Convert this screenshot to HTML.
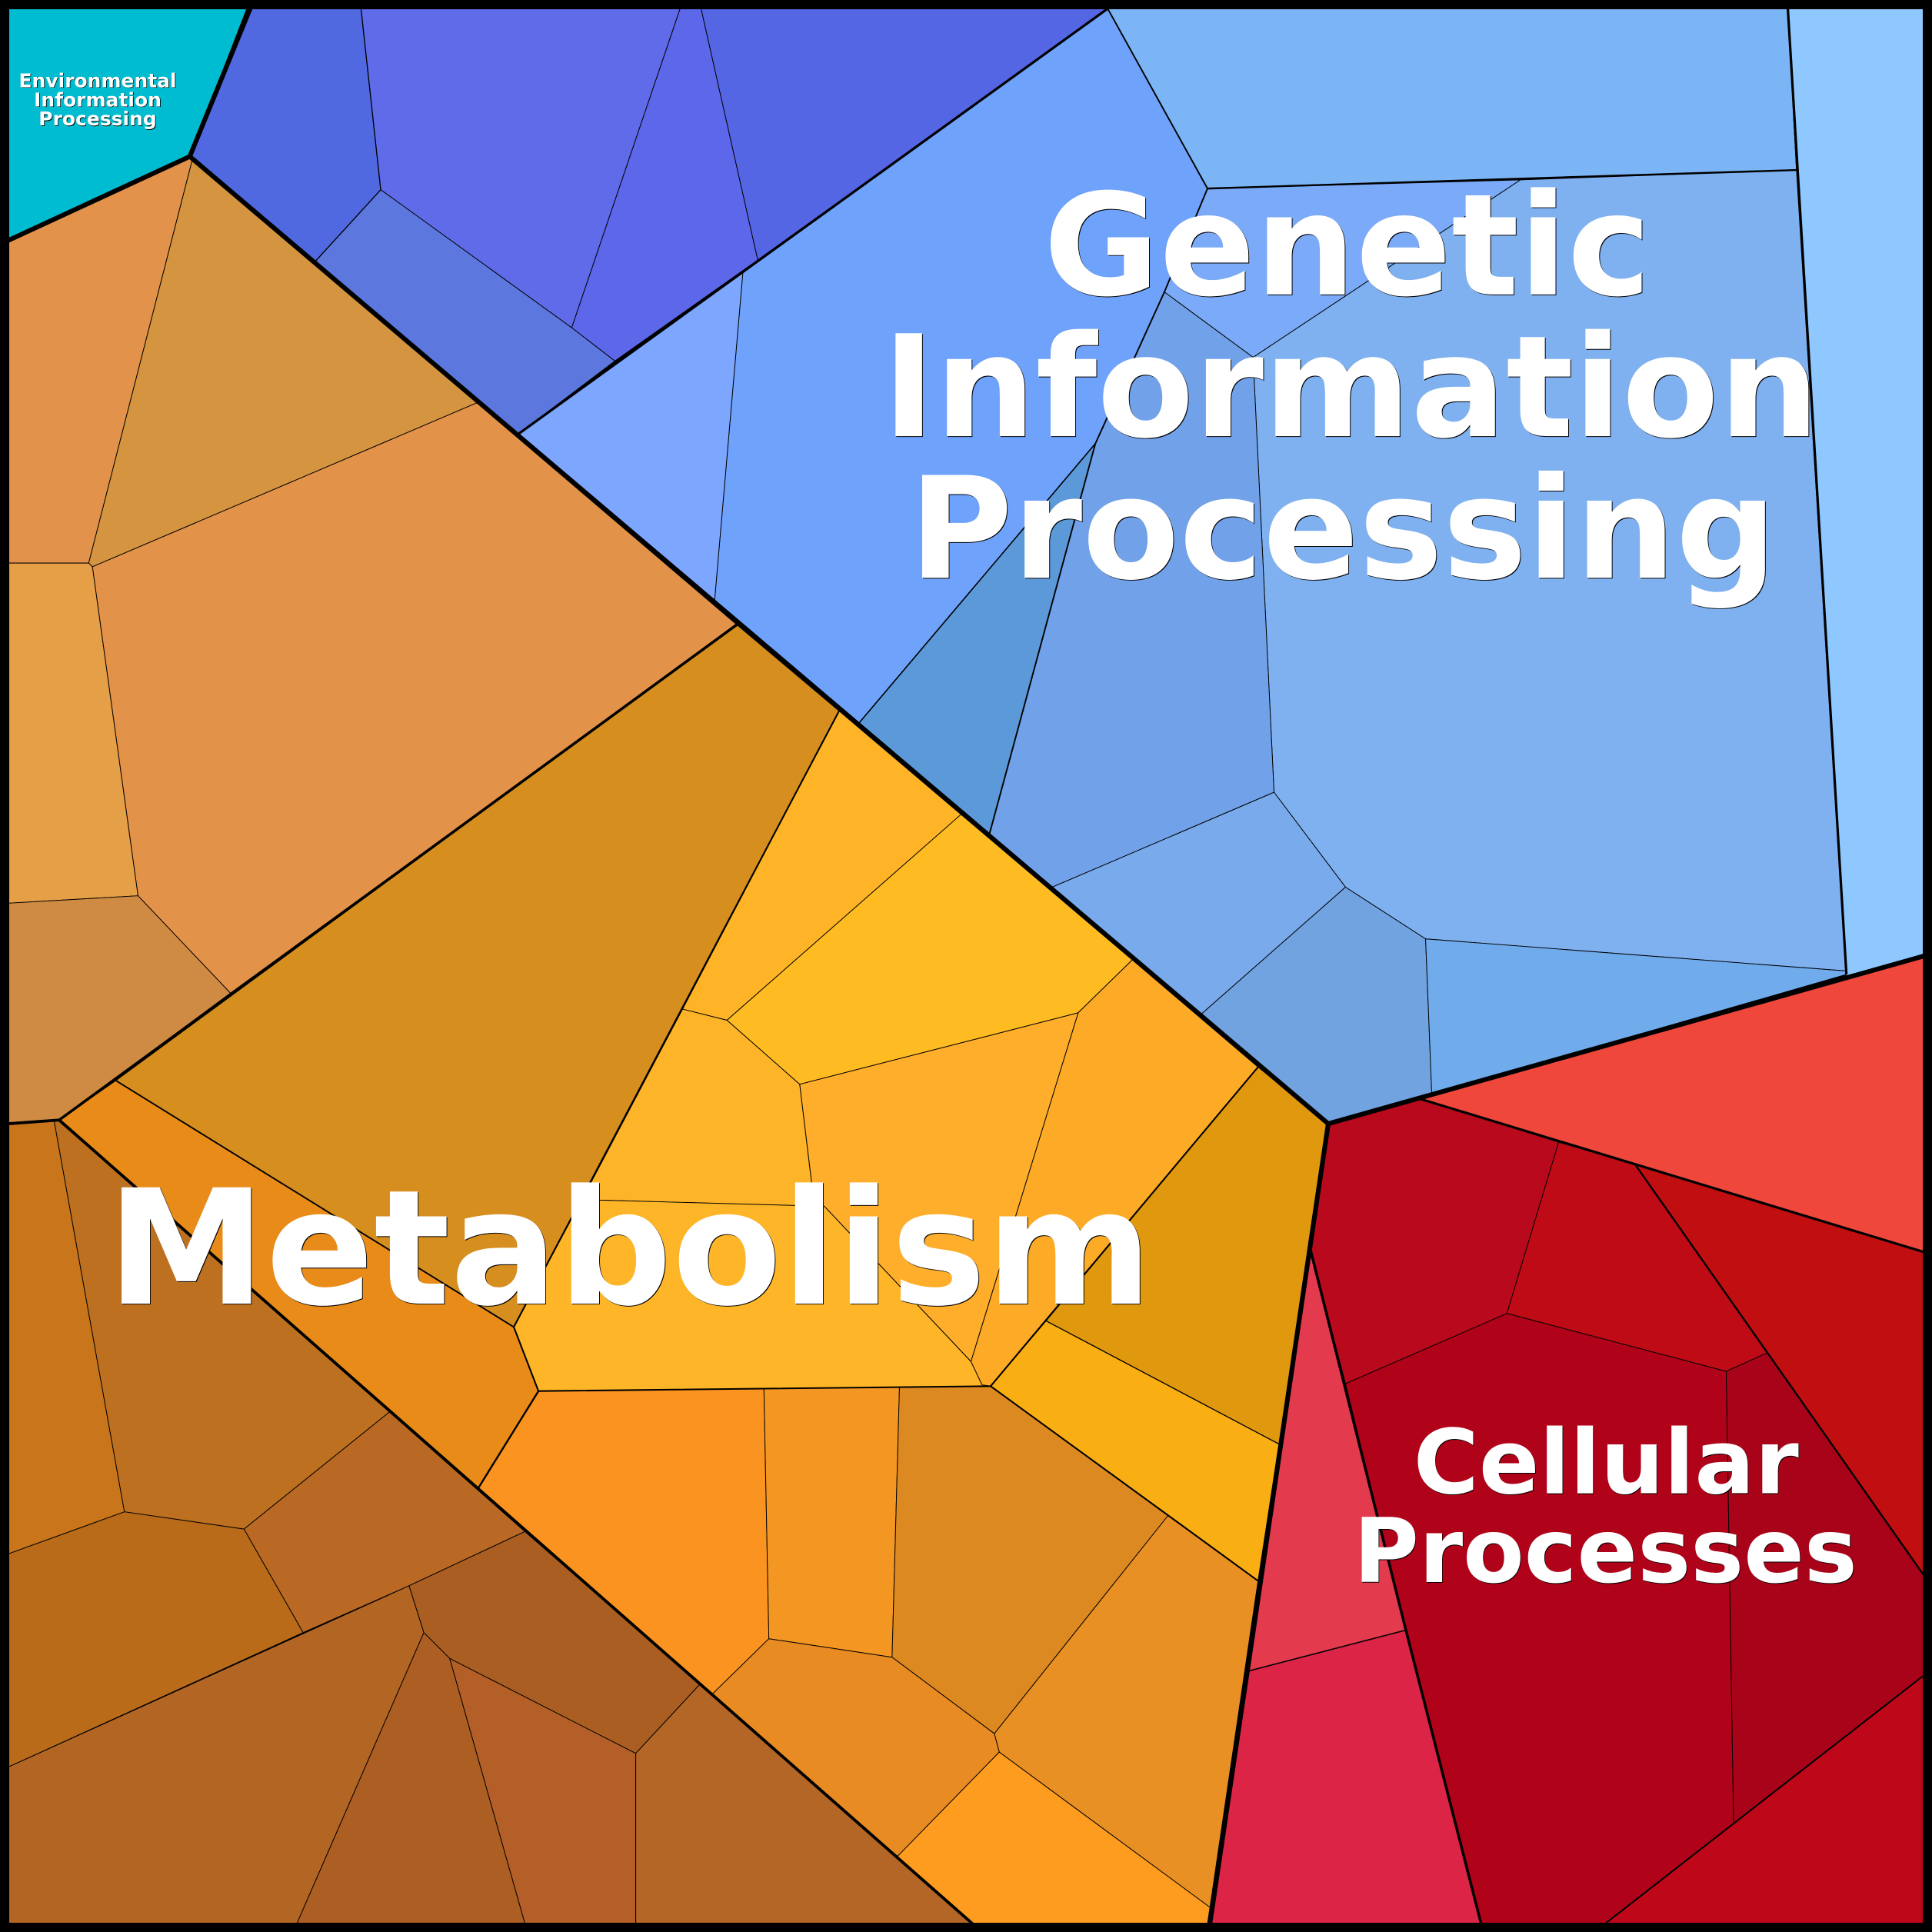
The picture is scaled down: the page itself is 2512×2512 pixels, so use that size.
<!DOCTYPE html>
<html><head><meta charset="utf-8"><style>
html,body{margin:0;padding:0;background:#000}
svg{display:block}
text{font-family:"DejaVu Sans","Liberation Sans",sans-serif;font-weight:bold;text-anchor:middle}
.w{fill:#fff}.k{fill:#000}
polygon{stroke:#000;stroke-width:.6;stroke-linejoin:round}
polyline,line{stroke:#000;fill:none;stroke-linejoin:round;stroke-linecap:round}
</style></head><body>
<svg xmlns="http://www.w3.org/2000/svg" width="2512" height="2512" viewBox="0 0 1568 1568">
<rect width="1568" height="1568" fill="#000"/>
<polygon fill="#00bcd0" points="0,0 203,0 154,127 0,198"/>
<polygon fill="#5069e0" points="203,7 293,7 309,154 256,212 154,127"/>
<polygon fill="#5f6be8" points="293,7 552,7 464,266 309,154"/>
<polygon fill="#5c67ea" points="552,7 569,7 615,211 499,293 464,266"/>
<polygon fill="#5466e4" points="569,7 899,7 615,211"/>
<polygon fill="#5c78de" points="309,154 464,266 499,293 421,352 256,212"/>
<polygon fill="#6ea2fb" points="899,7 980,153 945,237 889,360 697,587 580,487 603,220 615,211"/>
<polygon fill="#5c99d8" points="889,360 803,677 697,587"/>
<polygon fill="#7da6ff" points="421,352 603,220 580,487"/>
<polygon fill="#7cb5f5" points="899,7 1451,7 1458,138 980,153"/>
<polygon fill="#8fc8fe" points="1451,7 1561,7 1561,776 1498,794 1458,138"/>
<polygon fill="#7aaaf8" points="980,153 1234,146 1017,290 945,237"/>
<polygon fill="#7fb1f1" points="1234,146 1458,138 1498,788 1157,762 1092,720 1034,643 1017,290"/>
<polygon fill="#71a2e9" points="945,237 1017,290 1034,643 854,720 803,677 889,360"/>
<polygon fill="#79aaec" points="854,720 1034,643 1092,720 975,823"/>
<polygon fill="#71a3e0" points="975,823 1092,720 1157,762 1162,887 1078,912"/>
<polygon fill="#70abec" points="1157,762 1498,788 1498,791 1162,888"/>
<polygon fill="#f0473d" points="1153,892 1498,792 1561,776 1561,1016"/>
<polygon fill="#b80a1c" points="1078,912 1153,892 1265,927 1223,1066 1092,1123 1064,1016"/>
<polygon fill="#bf0b16" points="1265,927 1327,945 1434,1098 1401,1113 1223,1066"/>
<polygon fill="#c10e10" points="1327,945 1561,1016 1561,1278 1434,1098"/>
<polygon fill="#b00218" points="1092,1123 1223,1066 1401,1113 1407,1480 1303,1561 1202,1561 1141,1323"/>
<polygon fill="#a80318" points="1401,1113 1434,1098 1561,1278 1561,1360 1407,1480"/>
<polygon fill="#be0819" points="1407,1480 1561,1360 1561,1561 1303,1561"/>
<polygon fill="#e33a4e" points="1064,1016 1141,1323 1014,1356"/>
<polygon fill="#dc2546" points="1014,1356 1141,1323 1202,1561 982,1561"/>
<polygon fill="#d68e1f" points="598,507 681,577 554,819 479,961 417,1077 94,877"/>
<polygon fill="#e2924a" points="7,195 154,127 156,130 72,457 7,457"/>
<polygon fill="#d59540" points="156,130 387,327 75,460 72,457"/>
<polygon fill="#e29249" points="387,327 598,507 187,806 112,727 75,460"/>
<polygon fill="#e49f47" points="7,457 72,457 75,460 112,727 7,733"/>
<polygon fill="#cf8a44" points="7,733 112,727 187,806 48,909 7,912"/>
<polygon fill="#feb426" points="681,577 780,661 590,828 554,819"/>
<polygon fill="#febc22" points="780,661 919,779 875,822 649,880 590,828"/>
<polygon fill="#fdab26" points="875,822 919,779 1021,866 849,1072 804,1125 797,1124 788,1105"/>
<polygon fill="#feae2b" points="649,880 875,822 788,1105 669,979 661,979"/>
<polygon fill="#feb428" points="554,819 590,828 649,880 661,979 486,974 479,961"/>
<polygon fill="#feb528" points="479,961 486,974 669,979 788,1105 797,1124 804,1125 437,1129 417,1077"/>
<polygon fill="#e0980f" points="1021,866 1078,912 1038,1172 849,1072"/>
<polygon fill="#f9ae14" points="849,1072 1038,1172 1021,1283 804,1125"/>
<polygon fill="#e88b19" points="94,877 417,1077 437,1129 388,1208 48,909"/>
<polygon fill="#fa931f" points="437,1129 620,1127 624,1330 578,1375 388,1208"/>
<polygon fill="#f49722" points="620,1127 730,1126 724,1345 624,1330"/>
<polygon fill="#dd8921" points="730,1126 804,1125 948,1230 807,1407 724,1345"/>
<polygon fill="#e89023" points="948,1230 1021,1283 982,1548 811,1422 807,1407"/>
<polygon fill="#e98b23" points="624,1330 724,1345 807,1407 811,1422 728,1507 578,1375"/>
<polygon fill="#fe9c20" points="811,1422 982,1548 980,1561 789,1561 728,1507"/>
<polygon fill="#c8751b" points="7,912 44,910 101,1227 7,1261"/>
<polygon fill="#bd7120" points="44,910 48,909 316,1146 198,1241 101,1227"/>
<polygon fill="#b96923" points="316,1146 426,1243 332,1287 246,1325 198,1241"/>
<polygon fill="#b96b19" points="7,1261 101,1227 198,1241 246,1325 7,1434"/>
<polygon fill="#b36524" points="7,1434 332,1287 344,1325 241,1561 7,1561"/>
<polygon fill="#ac5e23" points="344,1325 365,1346 426,1561 241,1561"/>
<polygon fill="#b45f27" points="365,1346 516,1423 516,1561 426,1561"/>
<polygon fill="#aa5e22" points="332,1287 426,1243 568,1367 516,1423 365,1346 344,1325"/>
<polygon fill="#b36625" points="516,1423 568,1367 789,1561 516,1561"/>

<polyline points="293,7 309,154 256,212" style="stroke-width:.8"/>
<polyline stroke-width="1.2" points="899,7 980,153 945,237 889,360 803,677"/>
<line stroke-width="1" x1="889" y1="360" x2="697" y2="587"/>
<line stroke-width="1.5" x1="980" y1="153" x2="1458" y2="138"/>
<line stroke-width="2" x1="1451" y1="7" x2="1498.5" y2="790"/>
<line stroke-width="2" x1="899" y1="7" x2="421" y2="352"/>
<polyline stroke-width="2.2" points="1064,1016 1141,1323 1202,1561"/>
<line stroke-width="1" x1="1014" y1="1356" x2="1141" y2="1323"/>
<line stroke-width="2" x1="1153" y1="892" x2="1561" y2="1016"/>
<line stroke-width="1.5" x1="1327" y1="945" x2="1561" y2="1278"/>
<line stroke-width="1.3" x1="1303" y1="1561" x2="1561" y2="1360"/>
<polyline stroke-width="1.3" points="681,577 417,1077 437,1129 804,1125 1021,866"/>
<line stroke-width="1.2" x1="94" y1="877" x2="417" y2="1077"/>
<line stroke-width="1.5" x1="437" y1="1129" x2="388" y2="1208"/>
<line stroke-width="1.3" x1="804" y1="1125" x2="1021" y2="1283"/>
<line stroke-width=".8" x1="849" y1="1072" x2="1038" y2="1172"/>
<line stroke-width="2.2" x1="48" y1="909" x2="598" y2="507"/>
<polyline stroke-width="2.4" points="7,912 48,909 789,1561"/>
<polyline stroke-width="3.8" points="203,7 154,127 7,195"/>
<line stroke-width="3.8" x1="154" y1="127" x2="1078" y2="912"/>
<polyline stroke-width="3.8" points="1561,776 1078,912 982,1561"/>
<rect x="3.75" y="3.75" width="1560.5" height="1560.5" fill="none" stroke="#000" stroke-width="7.5"/>

<g font-size="114.6">
<text class="k" x="1094.1" y="239.6">Genetic</text><text class="w" x="1093.5" y="239">Genetic</text>
<text class="k" x="1097.1" y="354.6">Information</text><text class="w" x="1096.5" y="354">Information</text>
<text class="k" x="1090.6" y="469.6">Processing</text><text class="w" x="1090" y="469">Processing</text>
</g>
<g font-size="129.5">
<text class="k" x="511.6" y="1058.6">Metabolism</text><text class="w" x="511" y="1058">Metabolism</text>
</g>
<g font-size="72.4">
<text class="k" x="1304" y="1212.5">Cellular</text><text class="w" x="1303.5" y="1212">Cellular</text>
<text class="k" x="1303.5" y="1284.5">Processes</text><text class="w" x="1303" y="1284">Processes</text>
</g>
<g font-size="15.6">
<text class="k" x="79.8" y="71.3">Environmental</text><text class="w" x="79.3" y="70.8">Environmental</text>
<text class="k" x="79.8" y="86.8">Information</text><text class="w" x="79.3" y="86.3">Information</text>
<text class="k" x="79.8" y="102.4">Processing</text><text class="w" x="79.3" y="101.9">Processing</text>
</g>
</svg>
</body></html>
